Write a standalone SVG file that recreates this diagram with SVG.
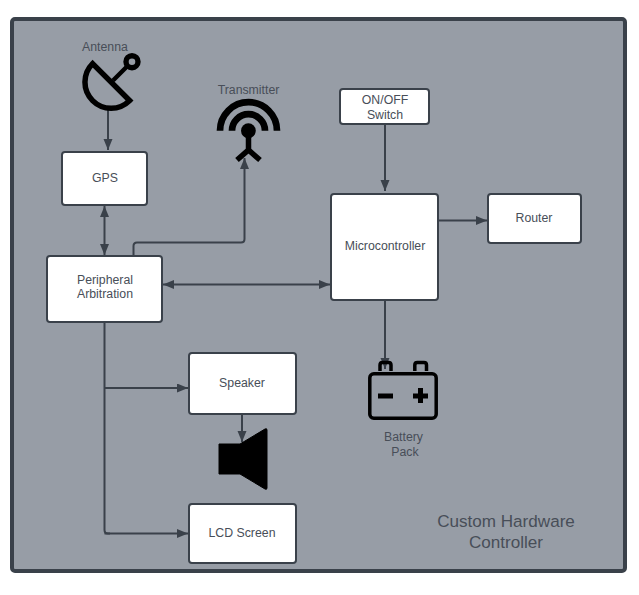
<svg xmlns="http://www.w3.org/2000/svg" width="639" height="595" viewBox="0 0 639 595">
<defs>
<marker id="ah" markerUnits="userSpaceOnUse" markerWidth="13" markerHeight="10" refX="11" refY="4.500" orient="auto-start-reverse"><path d="M0 0L11 4.500L0 9Z" fill="#3a414a"/></marker>
</defs>
<style>
.box{fill:#fff;stroke:#3a414a;stroke-width:2}
.c{fill:none;stroke:#3a414a;stroke-width:2;marker-end:url(#ah)}
.n{fill:none;stroke:#3a414a;stroke-width:2}
text{font-family:"Liberation Sans",Arial,sans-serif;font-size:12.300px;fill:#484e58;text-anchor:middle}
.ic{fill:none;stroke:#000;stroke-linecap:butt}
</style>
<rect width="639" height="595" fill="#fff"/>
<rect id="frame" x="12" y="19" width="613" height="552" rx="3" fill="#979da6" stroke="#3a414a" stroke-width="4"/>
<g id="connectors">
<path class="c" d="M108 110V150"/>
<path class="c" d="M104.500 206V255" marker-start="url(#ah)"/>
<path class="c" d="M133.500 255V246Q133.500 242.500 137 242.500H241Q244.500 242.500 244.500 239V158"/>
<path class="c" d="M163 284.500H330" marker-start="url(#ah)"/>
<path class="c" d="M385 125V191"/>
<path class="c" d="M439 220.500H487"/>
<path class="c" d="M385 300V369"/>
<path class="n" d="M104.500 323V530Q104.500 533.500 108 533.500H110"/>
<path class="c" d="M104.500 388H188"/>
<path class="c" d="M104.500 533.500H188"/>
<path class="c" d="M242 414V442"/>
</g>
<g id="gps"><rect class="box" x="62" y="152" width="85" height="53" rx="3"/><text x="105" y="182">GPS</text></g>
<g id="arbitration"><rect class="box" x="47" y="256" width="115" height="66" rx="3"/><text x="105" y="284">Peripheral</text><text x="105" y="298">Arbitration</text></g>
<g id="switch"><rect class="box" x="340" y="89" width="89" height="35" rx="3"/><text x="385" y="104">ON/OFF</text><text x="385" y="119">Switch</text></g>
<g id="microcontroller"><rect class="box" x="331" y="194" width="107" height="106" rx="3"/><text x="385" y="250">Microcontroller</text></g>
<g id="router"><rect class="box" x="488" y="194" width="93" height="49" rx="3"/><text x="534" y="222">Router</text></g>
<g id="speaker"><rect class="box" x="189" y="353" width="107" height="61" rx="3"/><text x="242" y="387">Speaker</text></g>
<g id="lcd"><rect class="box" x="189" y="504" width="107" height="59" rx="3"/><text x="242" y="537">LCD Screen</text></g>
<g id="antenna">
<text x="105" y="51">Antenna</text>
<path class="ic" stroke-width="5.500" stroke-linejoin="miter" d="M92.600 63.600L129.600 100.600A26.100 26.100 0 0 1 92.600 63.600Z"/>
<path class="ic" stroke-width="4.500" d="M113 80.500L128 65.500"/>
<circle class="ic" cx="132" cy="61.700" r="6" stroke-width="5.400"/>
</g>
<g id="transmitter">
<text x="248.500" y="94">Transmitter</text>
<path class="ic" stroke-width="6.700" d="M220 130.700A28.500 28.500 0 0 1 277 130.700"/>
<path class="ic" stroke-width="6.700" d="M232 130.700A16.500 16.500 0 0 1 265 130.700"/>
<circle cx="248.400" cy="130.700" r="7.400" fill="#000"/>
<path class="ic" stroke-width="5.500" d="M248.500 135V150M237 160L248.500 150L260 160"/>
</g>
<g id="battery">
<rect class="ic" x="369.800" y="373.700" width="66.400" height="44.600" rx="4" stroke-width="3.500"/>
<path class="ic" stroke-width="3.500" d="M380 371V365Q380 362.500 382.500 362.500H388.500Q391 362.500 391 365V371M414.800 371V365Q414.800 362.500 417.300 362.500H424Q426.500 362.500 426.500 365V371"/>
<path class="ic" stroke-width="5" d="M378 396H393M413 396H428M420.500 388V403"/>
<text x="403.500" y="441">Battery</text><text x="405" y="456">Pack</text>
</g>
<g id="speaker-icon"><path d="M219 444L240 444L265 429Q267 428 267 430V488Q267 490 265 489L240 474L219 474Z" fill="#000" stroke="#000" stroke-width="1" stroke-linejoin="round"/></g>
<g id="label"><text x="506" y="527" style="font-size:17.100px">Custom Hardware</text><text x="506" y="548" style="font-size:17.100px">Controller</text></g>
</svg>
